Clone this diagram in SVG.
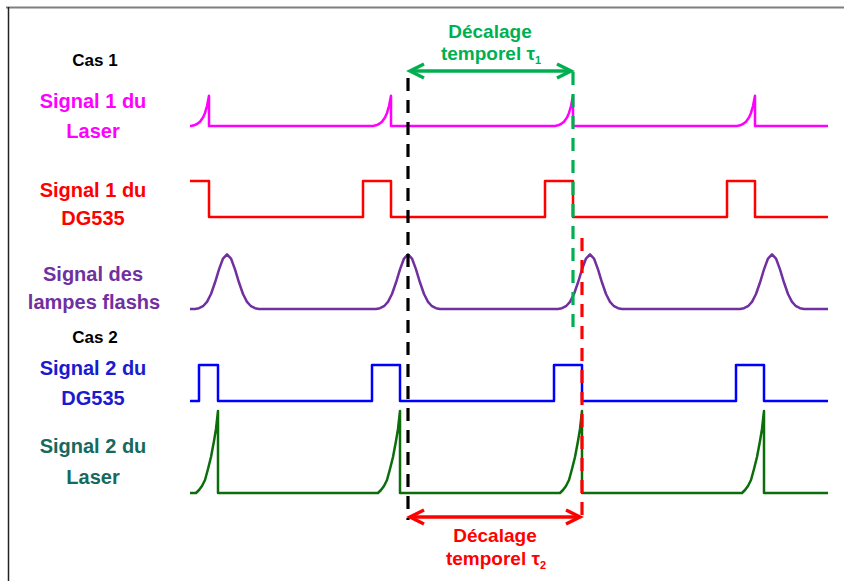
<svg xmlns="http://www.w3.org/2000/svg" width="844" height="581" viewBox="0 0 844 581">
<style>
text{font-family:"Liberation Sans",Arial,sans-serif;font-weight:bold;text-anchor:middle}
.lbl{font-size:20px}
.cas{font-size:17px;fill:#000}
.dl{font-size:19px}
.sig{fill:none;stroke-width:2.5;stroke-linejoin:round}
.dash{fill:none;stroke-width:3.2;stroke-dasharray:13 9}
.arr{fill:none;stroke-width:3.5}
</style>
<defs>
<marker id="hg" viewBox="-16 -10 20 20" refX="0" refY="0" markerWidth="20" markerHeight="20" markerUnits="userSpaceOnUse" orient="auto-start-reverse">
<path d="M-14,-7 L0,0 L-14,7" fill="none" stroke="#00B050" stroke-width="3.5"/>
</marker>
<marker id="hr" viewBox="-16 -10 20 20" refX="0" refY="0" markerWidth="20" markerHeight="20" markerUnits="userSpaceOnUse" orient="auto-start-reverse">
<path d="M-14,-7 L0,0 L-14,7" fill="none" stroke="#FF0000" stroke-width="3.5"/>
</marker>
</defs>
<rect width="844" height="581" fill="#fff"/>
<g id="frame">
<line x1="6" y1="7.5" x2="844" y2="7.5" stroke="#7f7f7f" stroke-width="2"/>
<line x1="8.5" y1="7" x2="8.5" y2="581" stroke="#222" stroke-width="1.5"/>
</g>
<g id="labels">
<text class="cas" x="95" y="66">Cas 1</text>
<text class="lbl" x="93" y="108" fill="#FF00FF">Signal 1 du</text>
<text class="lbl" x="93" y="138" fill="#FF00FF">Laser</text>
<text class="lbl" x="93" y="197" fill="#FF0000">Signal 1 du</text>
<text class="lbl" x="93" y="225" fill="#FF0000">DG535</text>
<text class="lbl" x="93" y="281" fill="#7030A0">Signal des</text>
<text class="lbl" x="94" y="309" fill="#7030A0">lampes flashs</text>
<text class="cas" x="95" y="343">Cas 2</text>
<text class="lbl" x="93" y="375" fill="#1A1AD0">Signal 2 du</text>
<text class="lbl" x="93" y="405" fill="#1A1AD0">DG535</text>
<text class="lbl" x="93" y="453" fill="#17695C">Signal 2 du</text>
<text class="lbl" x="93" y="484" fill="#17695C">Laser</text>
</g>
<g id="signals">
<path id="laser1" class="sig" stroke="#FF00FF" d="M190,126 H191 l3,-0.7 l3,-1.28 l3,-2.31 l3,-4.21 l2,-4.6 l2,-6.9 l2,-10.2 V126 H373 l3,-0.7 l3,-1.28 l3,-2.31 l3,-4.21 l2,-4.6 l2,-6.9 l2,-10.2 V126 H555 l3,-0.7 l3,-1.28 l3,-2.31 l3,-4.21 l2,-4.6 l2,-6.9 l2,-10.2 V126 H737 l3,-0.7 l3,-1.28 l3,-2.31 l3,-4.21 l2,-4.6 l2,-6.9 l2,-10.2 V126 H828"/>
<path id="dg1" class="sig" stroke="#FF0000" d="M190,181 H209 V217 H363 V181 H391 V217 H545 V181 H573 V217 H727 V181 H755 V217 H828"/>
<path id="flash" class="sig" stroke="#7030A0" d="M190,309 H195 l4,-0.76 l4,-2 l4,-4.35 l4,-7.86 l4,-11.5 l4,-13.1 l4,-10.9 l4,-4.2 l4,4.2 l4,10.9 l4,13.1 l4,11.5 l4,7.86 l4,4.35 l4,2 l4,0.76 H376 l4,-0.76 l4,-2 l4,-4.35 l4,-7.86 l4,-11.5 l4,-13.1 l4,-10.9 l4,-4.2 l4,4.2 l4,10.9 l4,13.1 l4,11.5 l4,7.86 l4,4.35 l4,2 l4,0.76 H558 l4,-0.76 l4,-2 l4,-4.35 l4,-7.86 l4,-11.5 l4,-13.1 l4,-10.9 l4,-4.2 l4,4.2 l4,10.9 l4,13.1 l4,11.5 l4,7.86 l4,4.35 l4,2 l4,0.76 H740 l4,-0.76 l4,-2 l4,-4.35 l4,-7.86 l4,-11.5 l4,-13.1 l4,-10.9 l4,-4.2 l4,4.2 l4,10.9 l4,13.1 l4,11.5 l4,7.86 l4,4.35 l4,2 l4,0.76 H828"/>
<path id="dg2" class="sig" stroke="#0000FF" d="M190,401 H199 V365 H218 V401 H372 V365 H400 V401 H554 V365 H582 V401 H736 V365 H764 V401 H828"/>
<path id="laser2" class="sig" stroke="#0B6E0B" d="M190,493 H196 l3,-3 l3,-4 l3,-6 l3,-11 l3,-12 l3,-16 l2,-12 l2,-18 V493 H378 l3,-3 l3,-4 l3,-6 l3,-11 l3,-12 l3,-16 l2,-12 l2,-18 V493 H560 l3,-3 l3,-4 l3,-6 l3,-11 l3,-12 l3,-16 l2,-12 l2,-18 V493 H742 l3,-3 l3,-4 l3,-6 l3,-11 l3,-12 l3,-16 l2,-12 l2,-18 V493 H828"/>
</g>
<g id="connectors">
<line class="dash" x1="408" y1="78" x2="408" y2="520" stroke="#000"/>
<line class="dash" x1="573" y1="72" x2="573" y2="330" stroke="#00B050"/>
<line class="dash" x1="582" y1="238" x2="582" y2="518" stroke="#FF0000"/>
<line class="arr" x1="410" y1="71" x2="571" y2="71" stroke="#00B050" marker-start="url(#hg)" marker-end="url(#hg)"/>
<line class="arr" x1="410" y1="517" x2="580" y2="517" stroke="#FF0000" marker-start="url(#hr)" marker-end="url(#hr)"/>
</g>
<g id="delay1">
<text class="dl" x="490" y="38" fill="#00B050">Décalage</text>
<text class="dl" x="491" y="60" fill="#00B050">temporel τ<tspan font-size="11" dy="4">1</tspan></text>
</g>
<g id="delay2">
<text class="dl" x="495" y="542" fill="#FF0000">Décalage</text>
<text class="dl" x="496" y="565" fill="#FF0000">temporel τ<tspan font-size="11" dy="4">2</tspan></text>
</g>
</svg>
